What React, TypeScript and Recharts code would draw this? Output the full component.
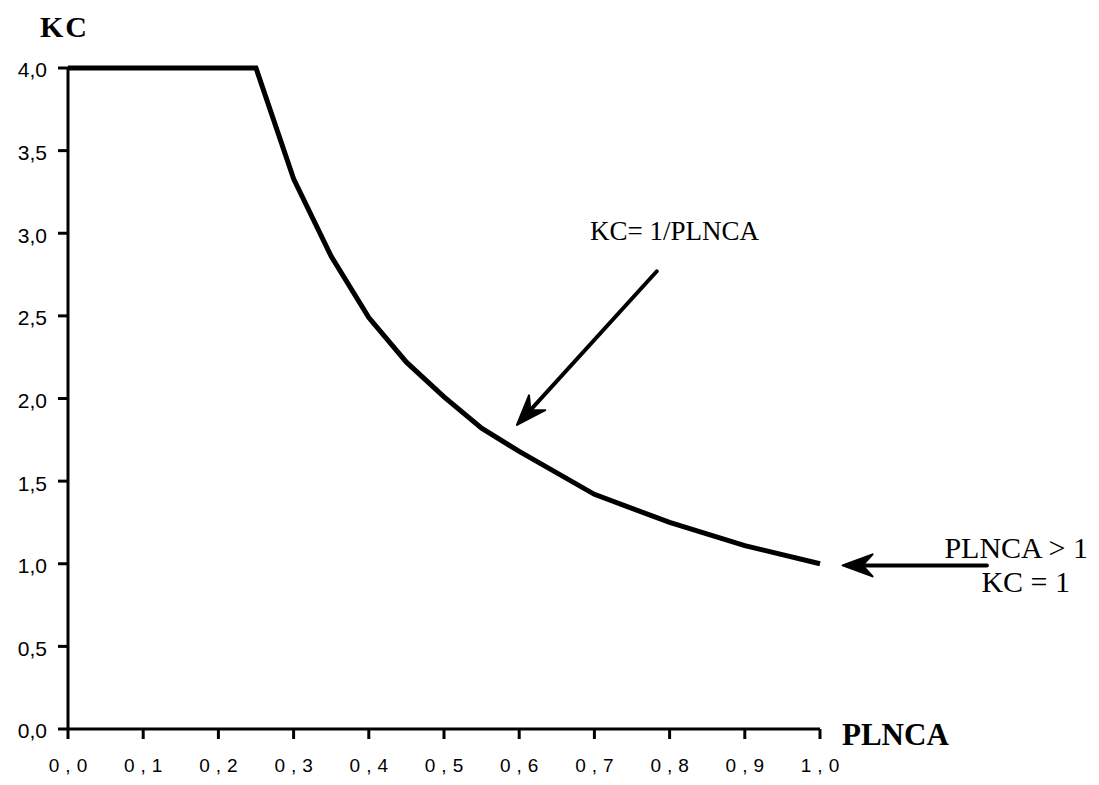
import React from 'react';
import { LineChart, Line, XAxis, YAxis, ReferenceLine } from 'recharts';

// values
const plncaValues = [0, 0.25, 0.3, 0.35, 0.4, 0.45, 0.5, 0.55, 0.6, 0.7, 0.8, 0.9, 1.0];
const kcValues = [4, 4, 3.33, 2.86, 2.49, 2.22, 2.01, 1.82, 1.68, 1.42, 1.25, 1.11, 1.0];

const xTicks = [0, 0.1, 0.2, 0.3, 0.4, 0.5, 0.6, 0.7, 0.8, 0.9, 1.0];
const yTicks = [0, 0.5, 1, 1.5, 2, 2.5, 3, 3.5, 4];

// annotation arrows (tail -> tip), in data units
const curveArrow = [{ x: 0.783, y: 2.77 }, { x: 0.597, y: 1.84 }];
const limitArrow = [{ x: 1.222, y: 0.99 }, { x: 1.03, y: 0.99 }];

const data = plncaValues.map((x, i) => ({ plnca: x, kc: kcValues[i] }));

const comma = (v: number) => v.toFixed(1).replace('.', ',');

const serif = '"Liberation Serif", "Times New Roman", serif';
const sans = '"Liberation Sans", Arial, sans-serif';

// line with a notched arrow head at the second point
function Arrow(props: any) {
  const { x1, y1, x2, y2 } = props;
  const ang = Math.atan2(y2 - y1, x2 - x1);
  const len = 30;
  const half = 11;
  const bx = x2 - len * Math.cos(ang);
  const by = y2 - len * Math.sin(ang);
  const nx = x2 - 20 * Math.cos(ang);
  const ny = y2 - 20 * Math.sin(ang);
  const px = -Math.sin(ang) * half;
  const py = Math.cos(ang) * half;
  return (
    <g>
      <line x1={x1} y1={y1} x2={nx} y2={ny} stroke="#000" strokeWidth={4} strokeLinecap="round" />
      <polygon
        points={`${x2},${y2} ${bx + px},${by + py} ${nx},${ny} ${bx - px},${by - py}`}
        fill="#000"
        stroke="#000"
        strokeWidth={2}
        strokeLinejoin="round"
      />
    </g>
  );
}

export default function App() {
  return (
    <div style={{ position: 'absolute', left: 0, top: 0, width: 1099, height: 785, background: '#fff' }}>
      <LineChart
        width={1099}
        height={785}
        data={data}
        margin={{ top: 68, right: 279, bottom: 16, left: 18 }}
      >
        <XAxis
          dataKey="plnca"
          type="number"
          domain={[0, 1]}
          ticks={xTicks}
          tickFormatter={comma}
          height={40}
          axisLine={{ stroke: '#000', strokeWidth: 3 }}
          tickLine={{ stroke: '#000', strokeWidth: 3 }}
          tickSize={10}
          tickMargin={20}
          tick={{ fill: '#000', fontSize: 19, fontFamily: sans, letterSpacing: 6, dx: 3 }}
        />
        <YAxis
          type="number"
          domain={[0, 4]}
          ticks={yTicks}
          tickFormatter={comma}
          width={50}
          axisLine={{ stroke: '#000', strokeWidth: 3 }}
          tickLine={{ stroke: '#000', strokeWidth: 3 }}
          tickSize={10}
          tickMargin={11}
          tick={{ fill: '#000', fontSize: 21, fontFamily: sans, dy: 2 }}
        />
        <Line
          dataKey="kc"
          type="linear"
          stroke="#000"
          strokeWidth={5}
          dot={false}
          isAnimationActive={false}
        />
        <ReferenceLine segment={curveArrow} ifOverflow="visible" shape={<Arrow />} />
        <ReferenceLine segment={limitArrow} ifOverflow="visible" shape={<Arrow />} />
      </LineChart>

      <svg
        width={1099}
        height={785}
        style={{ position: 'absolute', left: 0, top: 0, pointerEvents: 'none' }}
      >
        <text x={40} y={37} fontFamily={serif} fontWeight="bold" fontSize={30} letterSpacing={2}>KC</text>
        <text x={842} y={745} fontFamily={serif} fontWeight="bold" fontSize={31}>PLNCA</text>
        <text x={590} y={240} fontFamily={serif} fontSize={27}>KC= 1/PLNCA</text>
        <text x={1088} y={558} fontFamily={serif} fontSize={30} textAnchor="end">PLNCA &gt; 1</text>
        <text x={1070} y={592} fontFamily={serif} fontSize={30} textAnchor="end">KC = 1</text>
      </svg>
    </div>
  );
}
